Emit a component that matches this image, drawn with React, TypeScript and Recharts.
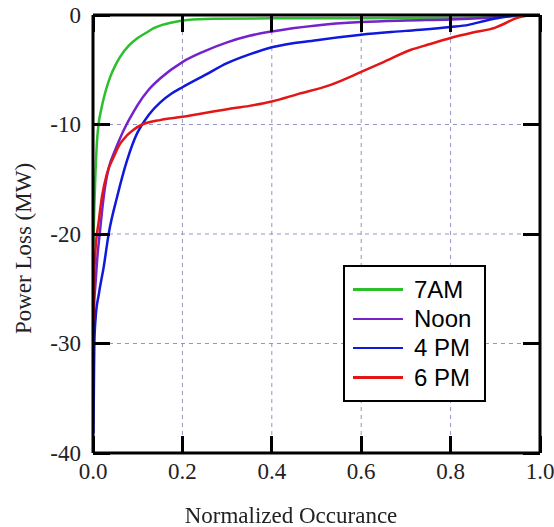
import { LineChart, Line, XAxis, YAxis, CartesianGrid, Legend } from 'recharts';

// x = normalized occurance, y = power loss (MW)
const occ7am = [0.0005, 0.002, 0.003, 0.005, 0.009, 0.013, 0.018, 0.024, 0.03, 0.039, 0.05, 0.061, 0.08, 0.1, 0.12, 0.136, 0.155, 0.174, 0.211, 0.27, 0.4, 0.6, 0.8, 0.9, 0.95, 1.0];
const loss7am = [-21, -19, -17.5, -15, -11.5, -9.8, -8.7, -7.6, -6.7, -5.6, -4.6, -3.8, -2.8, -2.1, -1.6, -1.2, -0.9, -0.7, -0.45, -0.35, -0.3, -0.3, -0.25, -0.2, -0.1, 0];

const occNoon = [0.001, 0.003, 0.005, 0.01, 0.015, 0.02, 0.027, 0.035, 0.049, 0.06, 0.075, 0.09, 0.1, 0.125, 0.15, 0.2, 0.25, 0.3, 0.35, 0.4, 0.5, 0.6, 0.7, 0.8, 0.9, 0.95, 1.0];
const lossNoon = [-28, -26, -24.9, -22, -20, -18, -15.7, -14, -12.4, -11.3, -10, -8.9, -8.2, -6.8, -5.8, -4.3, -3.3, -2.5, -1.9, -1.5, -0.95, -0.65, -0.5, -0.4, -0.2, 0, 0];

const occ4pm = [0.001, 0.002, 0.003, 0.006, 0.013, 0.024, 0.035, 0.054, 0.076, 0.1, 0.11, 0.125, 0.15, 0.175, 0.2, 0.25, 0.3, 0.35, 0.4, 0.5, 0.6, 0.7, 0.8, 0.84, 0.88, 0.91, 0.935, 0.95, 1.0];
const loss4pm = [-38.2, -34, -30, -27.6, -25.5, -23, -20, -16.6, -13.3, -10.7, -10.0, -9.1, -8.0, -7.2, -6.6, -5.5, -4.4, -3.6, -2.95, -2.3, -1.8, -1.45, -1.1, -0.9, -0.5, -0.25, -0.1, 0, 0];

const occ6pm = [0.001, 0.002, 0.005, 0.013, 0.02, 0.031, 0.046, 0.06, 0.076, 0.09, 0.11, 0.125, 0.15, 0.2, 0.3, 0.35, 0.4, 0.46, 0.53, 0.6, 0.65, 0.71, 0.75, 0.8, 0.85, 0.9, 0.92, 0.94, 0.96, 0.98, 1.0];
const loss6pm = [-28, -25, -21.8, -18.8, -16.6, -14.5, -13, -11.8, -11.0, -10.5, -10, -9.8, -9.6, -9.3, -8.6, -8.3, -7.9, -7.2, -6.4, -5.2, -4.3, -3.2, -2.7, -2.1, -1.6, -1.15, -0.8, -0.4, -0.15, 0, 0];

const xTicks = [0, 0.2, 0.4, 0.6, 0.8, 1.0];
const yTicks = [-40, -30, -20, -10, 0];

const X_MIN = 0;
const X_MAX = 1;
const Y_MIN = -40;
const Y_MAX = 0;

const toPoints = (xs: number[], ys: number[]) => xs.map((x, i) => ({ x, y: ys[i] }));

const series = [
    { name: '7AM', color: '#2cbf2c', data: toPoints(occ7am, loss7am) },
    { name: 'Noon', color: '#7422cc', data: toPoints(occNoon, lossNoon) },
    { name: '4 PM', color: '#1018dc', data: toPoints(occ4pm, loss4pm) },
    { name: '6 PM', color: '#e21616', data: toPoints(occ6pm, loss6pm) },
];

// chart layout (plot area follows from margins + axis sizes)
const W = 554;
const H = 527;
const MARGIN = { top: 13, right: 4, bottom: 34, left: 0 };
const LEFT_W = 93;
const RIGHT_W = 10;
const TOP_H = 2;
const BOTTOM_H = 40;
const PLOT_L = MARGIN.left + LEFT_W;
const PLOT_R = W - MARGIN.right - RIGHT_W;
const PLOT_T = MARGIN.top + TOP_H;
const PLOT_B = H - MARGIN.bottom - BOTTOM_H;

const TICK_LEN = 17;
const AXIS_W = 3;
const serif = '"Liberation Serif", "Times New Roman", serif';

const xPx = (v: number) => PLOT_L + ((v - X_MIN) / (X_MAX - X_MIN)) * (PLOT_R - PLOT_L);
const yPx = (v: number) => PLOT_T + ((Y_MAX - v) / (Y_MAX - Y_MIN)) * (PLOT_B - PLOT_T);

const BottomTick = ({ x, y, payload }: any) => (
    <text x={x} y={y + 26} textAnchor="middle" fontFamily={serif} fontSize={23} fill="#222">
        {Number(payload.value).toFixed(1)}
    </text>
);

const LeftTick = ({ x, y, payload }: any) => (
    <text x={x - 12} y={y} dy="0.34em" textAnchor="end" fontFamily={serif} fontSize={23} fill="#222">
        {payload.value}
    </text>
);

const EmptyTick = () => <g />;

const LegendBox = () => (
    <div style={{ border: '2px solid #000', background: '#fff', padding: '8px 0 8px 8px', width: 131 }}>
        {series.map((s) => (
            <div key={s.name} style={{ display: 'flex', alignItems: 'center', height: 29.3 }}>
                <span style={{ display: 'inline-block', width: 50, height: 2.5, background: s.color, marginRight: 11 }} />
                <span style={{ fontFamily: '"Liberation Sans", Arial, sans-serif', fontSize: 24, color: '#000' }}>{s.name}</span>
            </div>
        ))}
    </div>
);

// inward tick marks on all four sides of the frame
const TickMarks = () => {
    const mark = (key: string, left: number, top: number, w: number, h: number) => (
        <div key={key} style={{ position: 'absolute', left, top, width: w, height: h, background: '#000', pointerEvents: 'none' }} />
    );
    return (
        <>
            {xTicks.map((v) => mark(`b${v}`, xPx(v) - AXIS_W / 2, PLOT_B - TICK_LEN, AXIS_W, TICK_LEN))}
            {xTicks.map((v) => mark(`t${v}`, xPx(v) - AXIS_W / 2, PLOT_T, AXIS_W, TICK_LEN))}
            {yTicks.map((v) => mark(`l${v}`, PLOT_L, yPx(v) - AXIS_W / 2, TICK_LEN, AXIS_W))}
            {yTicks.map((v) => mark(`r${v}`, PLOT_R - TICK_LEN, yPx(v) - AXIS_W / 2, TICK_LEN, AXIS_W))}
        </>
    );
};

export default function App() {
    return (
        <div style={{ position: 'fixed', left: 0, top: 0, width: W, height: H, background: '#fff' }}>
            <LineChart width={W} height={H} margin={MARGIN}>
                <CartesianGrid stroke="#9494c4" strokeDasharray="4 4" strokeWidth={1} />
                <XAxis
                    dataKey="x"
                    type="number"
                    domain={[X_MIN, X_MAX]}
                    ticks={xTicks}
                    allowDataOverflow
                    height={BOTTOM_H}
                    stroke="#000"
                    tickSize={0}
                    tickMargin={0}
                    tickLine={false}
                    axisLine={{ stroke: '#000', strokeWidth: AXIS_W }}
                    tick={BottomTick}
                    interval={0}
                />
                <XAxis
                    xAxisId="top"
                    orientation="top"
                    type="number"
                    domain={[X_MIN, X_MAX]}
                    ticks={xTicks}
                    allowDataOverflow
                    height={TOP_H}
                    stroke="#000"
                    tickSize={0}
                    tickMargin={0}
                    tickLine={false}
                    axisLine={{ stroke: '#000', strokeWidth: AXIS_W }}
                    tick={EmptyTick}
                    interval={0}
                />
                <YAxis
                    type="number"
                    domain={[Y_MIN, Y_MAX]}
                    ticks={yTicks}
                    allowDataOverflow
                    width={LEFT_W}
                    stroke="#000"
                    tickSize={0}
                    tickMargin={0}
                    tickLine={false}
                    axisLine={{ stroke: '#000', strokeWidth: AXIS_W }}
                    tick={LeftTick}
                    interval={0}
                />
                <YAxis
                    yAxisId="right"
                    orientation="right"
                    type="number"
                    domain={[Y_MIN, Y_MAX]}
                    ticks={yTicks}
                    allowDataOverflow
                    width={RIGHT_W}
                    stroke="#000"
                    tickSize={0}
                    tickMargin={0}
                    tickLine={false}
                    axisLine={{ stroke: '#000', strokeWidth: AXIS_W }}
                    tick={EmptyTick}
                    interval={0}
                />
                {series.map((s) => (
                    <Line
                        key={s.name}
                        data={s.data}
                        dataKey="y"
                        name={s.name}
                        type="monotone"
                        stroke={s.color}
                        strokeWidth={2.5}
                        dot={false}
                        isAnimationActive={false}
                    />
                ))}
                <Legend
                    layout="vertical"
                    align="center"
                    verticalAlign="middle"
                    content={LegendBox}
                    wrapperStyle={{ left: 343, top: 265, width: 141 }}
                />
            </LineChart>
            <TickMarks />
            <div
                style={{
                    position: 'absolute', left: 141, top: 504, width: 300, textAlign: 'center',
                    fontFamily: serif, fontSize: 23, lineHeight: '23px', color: '#222',
                }}
            >
                Normalized Occurance
            </div>
            <div
                style={{
                    position: 'absolute', left: -127, top: 237, width: 300, height: 23, textAlign: 'center',
                    fontFamily: serif, fontSize: 23, lineHeight: '23px', color: '#222',
                    transform: 'rotate(-90deg)',
                }}
            >
                Power Loss (MW)
            </div>
        </div>
    );
}
